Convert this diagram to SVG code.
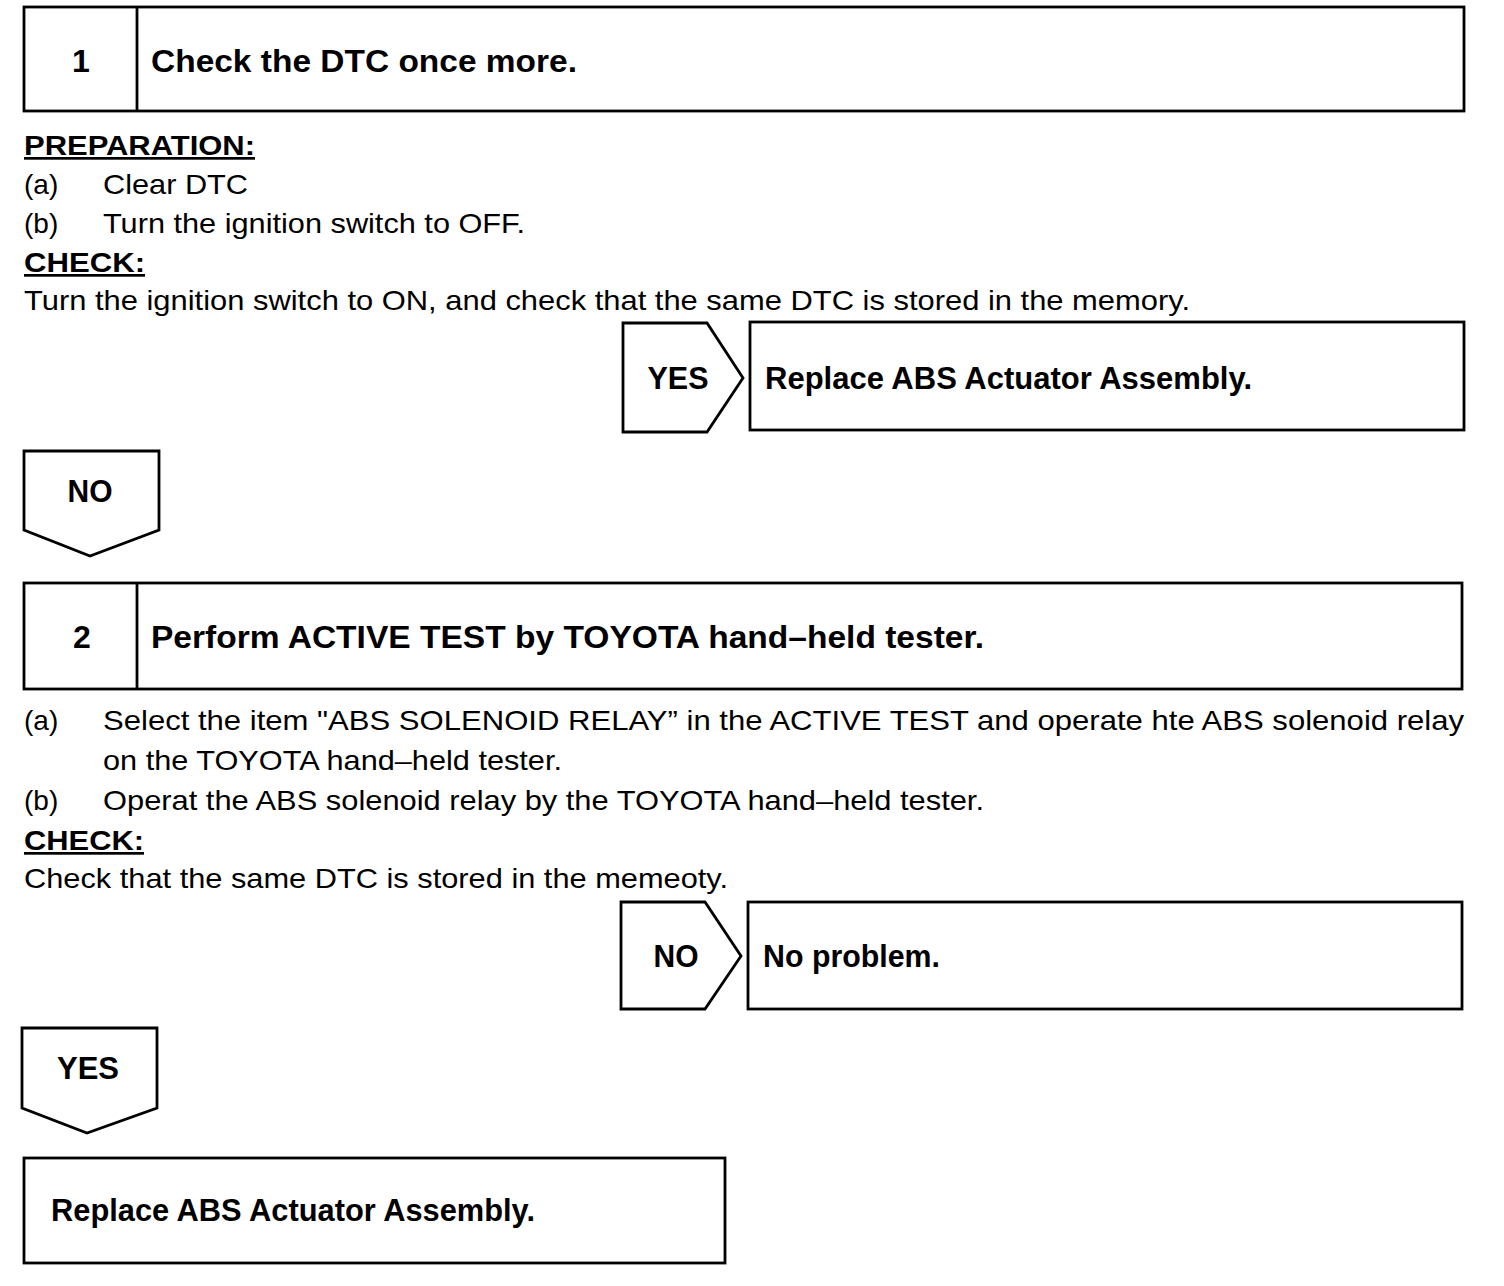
<svg xmlns="http://www.w3.org/2000/svg" width="1504" height="1286" viewBox="0 0 1504 1286">
<style>
.box{fill:#fff;stroke:#000;stroke-width:2.8}
.t{font-family:"Liberation Sans",Arial,sans-serif;fill:#000}
.b{font-weight:bold;font-size:32px}
.r{font-size:28px}
.u{font-weight:bold;font-size:27px;text-decoration:underline}
</style>
<rect width="1504" height="1286" fill="#fff"/>
<g id="step1">
<rect class="box" x="24" y="7" width="1440" height="104"/>
<line class="box" x1="137" y1="7" x2="137" y2="111"/>
<text class="t b" x="81" y="72" text-anchor="middle">1</text>
<text class="t b" x="151" y="72" textLength="426" lengthAdjust="spacingAndGlyphs">Check the DTC once more.</text>
</g>
<g id="text1">
<text class="t u" x="24" y="155" textLength="231" lengthAdjust="spacingAndGlyphs">PREPARATION:</text>
<text class="t r" x="24" y="194">(a)</text>
<text class="t r" x="103" y="194" textLength="145" lengthAdjust="spacingAndGlyphs">Clear DTC</text>
<text class="t r" x="24" y="233">(b)</text>
<text class="t r" x="103" y="233" textLength="422" lengthAdjust="spacingAndGlyphs">Turn the ignition switch to OFF.</text>
<text class="t u" x="24" y="272" textLength="121" lengthAdjust="spacingAndGlyphs">CHECK:</text>
<text class="t r" x="24" y="310" textLength="1166" lengthAdjust="spacingAndGlyphs">Turn the ignition switch to ON, and check that the same DTC is stored in the memory.</text>
</g>
<g id="yes1">
<polygon class="box" points="623,323 707,323 743,378 707,432 623,432"/>
<text class="t b" x="678" y="389" text-anchor="middle" textLength="61" lengthAdjust="spacingAndGlyphs">YES</text>
</g>
<g id="result1">
<rect class="box" x="750" y="322" width="714" height="108"/>
<text class="t b" x="765" y="389" textLength="487" lengthAdjust="spacingAndGlyphs">Replace ABS Actuator Assembly.</text>
</g>
<g id="no1">
<polygon class="box" points="24,451 159,451 159,530 90,556 24,530"/>
<text class="t b" x="90" y="502" text-anchor="middle" textLength="45" lengthAdjust="spacingAndGlyphs">NO</text>
</g>
<g id="step2">
<rect class="box" x="24" y="583" width="1438" height="106"/>
<line class="box" x1="137" y1="583" x2="137" y2="689"/>
<text class="t b" x="82" y="648" text-anchor="middle">2</text>
<text class="t b" x="151" y="648" textLength="833" lengthAdjust="spacingAndGlyphs">Perform ACTIVE TEST by TOYOTA hand–held tester.</text>
</g>
<g id="text2">
<text class="t r" x="24" y="730">(a)</text>
<text class="t r" x="103" y="730" textLength="1361" lengthAdjust="spacingAndGlyphs">Select the item "ABS SOLENOID RELAY” in the ACTIVE TEST and operate hte ABS solenoid relay</text>
<text class="t r" x="103" y="770" textLength="459" lengthAdjust="spacingAndGlyphs">on the TOYOTA hand–held tester.</text>
<text class="t r" x="24" y="810">(b)</text>
<text class="t r" x="103" y="810" textLength="881" lengthAdjust="spacingAndGlyphs">Operat the ABS solenoid relay by the TOYOTA hand–held tester.</text>
<text class="t u" x="24" y="850" textLength="120" lengthAdjust="spacingAndGlyphs">CHECK:</text>
<text class="t r" x="24" y="888" textLength="704" lengthAdjust="spacingAndGlyphs">Check that the same DTC is stored in the memeoty.</text>
</g>
<g id="no2">
<polygon class="box" points="621,902 705,902 741,956 705,1009 621,1009"/>
<text class="t b" x="676" y="967" text-anchor="middle" textLength="45" lengthAdjust="spacingAndGlyphs">NO</text>
</g>
<g id="result2">
<rect class="box" x="748" y="902" width="714" height="107"/>
<text class="t b" x="763" y="967" textLength="177" lengthAdjust="spacingAndGlyphs">No problem.</text>
</g>
<g id="yes2">
<polygon class="box" points="22,1028 157,1028 157,1108 87,1133 22,1108"/>
<text class="t b" x="88" y="1079" text-anchor="middle" textLength="62" lengthAdjust="spacingAndGlyphs">YES</text>
</g>
<g id="result3">
<rect class="box" x="24" y="1158" width="701" height="105"/>
<text class="t b" x="51" y="1221" textLength="484" lengthAdjust="spacingAndGlyphs">Replace ABS Actuator Assembly.</text>
</g>
<g id="connectors"></g>
</svg>
